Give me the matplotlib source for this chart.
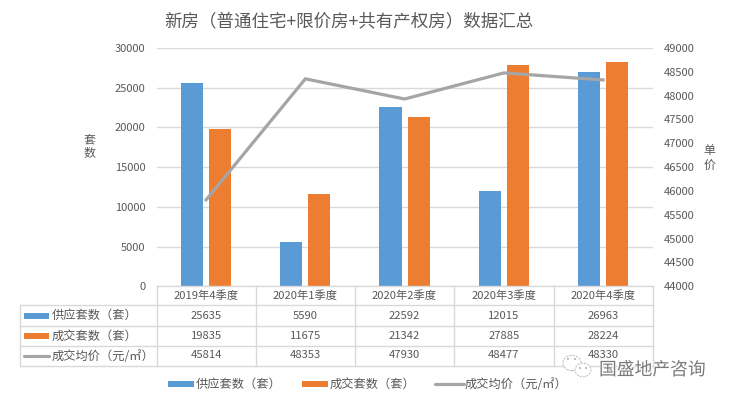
import matplotlib
matplotlib.use("Agg")
import matplotlib.pyplot as plt
from matplotlib.lines import Line2D
from matplotlib.patches import Rectangle, Ellipse
import matplotlib.patheffects as pe
import numpy as np

plt.rcParams['font.family'] = ['Noto Sans CJK SC', 'DejaVu Sans']

quarters = ["2019年4季度", "2020年1季度", "2020年2季度", "2020年3季度", "2020年4季度"]
supply = [25635, 5590, 22592, 12015, 26963]
deals = [19835, 11675, 21342, 27885, 28224]
price = [45814, 48353, 47930, 48477, 48330]
series_names = ["供应套数（套）", "成交套数（套）", "成交均价（元/㎡）"]
title = "新房（普通住宅+限价房+共有产权房）数据汇总"

BLUE = "#5B9BD5"
ORANGE = "#ED7D31"
GREY = "#A5A5A5"
TEXT = "#595959"
GRID = "#D9D9D9"
W, H = 729, 400

def fx( px ):
    return px / W

def fy( py ):
    return 1 - py / H

fig = plt.figure( figsize=(W / 100, H / 100), dpi=100 )
ax = fig.add_axes( [fx(156.5), fy(286.3), fx(652.7) - fx(156.5), fy(48) - fy(286.3)] )
ax2 = ax.twinx()

x = np.arange( len(quarters) )
ax.bar( x - 0.142, supply, width=0.222, color=BLUE, zorder=3 )
ax.bar( x + 0.141, deals, width=0.222, color=ORANGE, zorder=3 )
ax2.plot( x, price, color=GREY, lw=2.3, solid_joinstyle="miter", zorder=4 )

ax.set_xlim( -0.5, 4.5 )
ax.set_ylim( 0, 30000 )
ax.set_yticks( range(0, 30001, 5000) )
ax.set_xticks( [] )
ax.grid( axis="y", color=GRID, lw=1 )
ax.set_axisbelow( True )
ax2.set_ylim( 44000, 49000 )
ax2.set_yticks( range(44000, 49001, 500) )
for a in (ax, ax2):
    a.tick_params( axis="y", length=0, labelsize=8, labelcolor=TEXT, pad=8 )
    for s in a.spines.values():
        s.set_visible( False )

fig.text( fx(349), fy(21), title, fontsize=12.6, color=TEXT, ha="center", va="center" )
for ch, xp, yp in [("套", 89, 140), ("数", 89, 153.5), ("单", 709, 151), ("价", 709, 166)]:
    fig.text( fx(xp), fy(yp), ch, fontsize=8.6, color=TEXT, ha="center", va="center" )

# data table below the plot, left column holds the series keys
col_px = [19.5, 156.5, 255.7, 354.9, 454.1, 553.5, 652.7]
row_px = [286.3, 305.3, 326.3, 346.3, 366.3]
rows = [quarters] + [[str(v) for v in s] for s in (supply, deals, price)]
for yp in row_px:
    left = col_px[1] if yp == row_px[0] else col_px[0]
    fig.add_artist( Line2D( [fx(left), fx(652.7)], [fy(yp), fy(yp)], color=GRID, lw=1 ) )
for i, xp in enumerate( col_px ):
    top = row_px[1] if i == 0 else row_px[0]
    fig.add_artist( Line2D( [fx(xp), fx(xp)], [fy(top), fy(row_px[-1])], color=GRID, lw=1 ) )
for r, row in enumerate( rows ):
    yc = (row_px[r] + row_px[r + 1]) / 2
    if r == 3:
        yc -= 1
    for c, val in enumerate( row ):
        xc = (col_px[c + 1] + col_px[c + 2]) / 2
        fig.text( fx(xc), fy(yc), val, fontsize=8.1, color=TEXT, ha="center", va="center" )

def key( xp, yp, w, idx ):
    if idx < 2:
        color = [BLUE, ORANGE][idx]
        fig.add_artist( Rectangle( (fx(xp), fy(yp + 3)), fx(w), 6 / H, color=color, lw=0,
                                   transform=fig.transFigure ) )
    else:
        fig.add_artist( Line2D( [fx(xp), fx(xp + w)], [fy(yp), fy(yp)], color=GREY, lw=2.3,
                                solid_capstyle="round" ) )

for i, name in enumerate( series_names ):
    yc = (row_px[i + 1] + row_px[i + 2]) / 2
    key( 24, yc, 25, i )
    fig.text( fx(52), fy(yc), name, fontsize=8.8, color=TEXT, ha="left", va="center" )

# legend at the bottom
legend_px = [(168, 194, 196), (302, 328, 330), (435, 464, 465)]
for i, name in enumerate( series_names ):
    x0, x1, xt = legend_px[i]
    key( x0, 384, x1 - x0, i )
    fig.text( fx(xt), fy(384), name, fontsize=8.8, color=TEXT, ha="left", va="center" )

# watermark
for xp, yp, rx in [(572, 363, 9), (583, 370, 8)]:
    fig.add_artist( Ellipse( (fx(xp), fy(yp)), 2 * rx / W, 1.7 * rx / H, fc="white", ec="#C4C4C4",
                             lw=0.8, ls=(0, (2, 1)), transform=fig.transFigure, zorder=10 ) )
for xp, yp in [(568, 359), (575, 359), (580, 368), (586, 368)]:
    fig.add_artist( Ellipse( (fx(xp), fy(yp)), 2 / W, 2 / H, fc="#B0B0B0", ec="none",
                             transform=fig.transFigure, zorder=11 ) )
fig.text( fx(599), fy(370), "国盛地产咨询", fontsize=12.8, color="#7A7A7A", ha="left", va="center",
          path_effects=[pe.withStroke( linewidth=1.2, foreground="white" )], zorder=10 )

fig.savefig( "out.png", dpi=100, facecolor="white" )
